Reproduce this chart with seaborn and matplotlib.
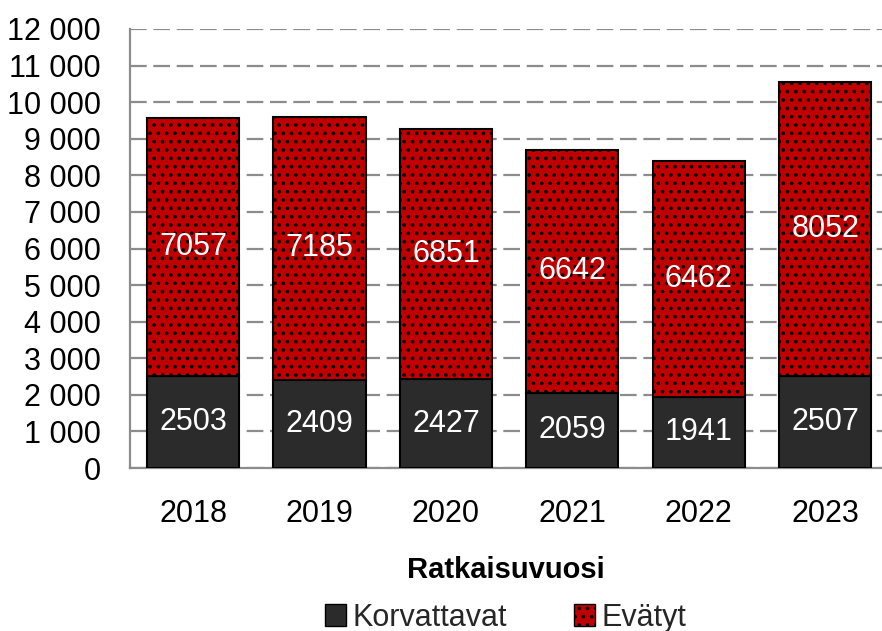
import matplotlib
matplotlib.use("Agg")
import matplotlib.pyplot as plt
import matplotlib.ticker as mticker
from matplotlib.patches import Patch
import pandas as pd
import seaborn as sns

# data
years = ["2018", "2019", "2020", "2021", "2022", "2023"]
korvattavat = [2503, 2409, 2427, 2059, 1941, 2507]
evatyt = [7057, 7185, 6851, 6642, 6462, 8052]

df = pd.DataFrame({"vuosi": years, "Korvattavat": korvattavat, "Evätyt": evatyt})

dark = "#2b2b2b"
red = "#c00000"
grid_gray = "#8c8c8c"

sns.set_style("white")
plt.rcParams["font.family"] = ["Liberation Sans", "DejaVu Sans"]
plt.rcParams["hatch.color"] = "black"
plt.rcParams["hatch.linewidth"] = 1.4

fig = plt.figure(figsize=(8.82, 6.31), dpi=100)
ax = fig.add_axes([130 / 882, 1 - 468 / 631, 752 / 882, (468 - 29) / 631])

# bottom segment
sns.barplot(data=df, x="vuosi", y="Korvattavat", ax=ax, color=dark, width=0.73,
            edgecolor="black", linewidth=1.5, saturation=1, zorder=3)
# top segment stacked on top
sns.barplot(data=df, x="vuosi", y="Evätyt", ax=ax, color=red, width=0.73,
            edgecolor="black", linewidth=1.5, saturation=1, hatch="..",
            bottom=df["Korvattavat"].values, zorder=3)

for cont in ax.containers:
    ax.bar_label(cont, label_type="center", color="white", fontsize=22)

ax.set_ylim(0, 12000)
ax.set_xlim(-0.5, 5.45)
ax.yaxis.set_major_locator(mticker.MultipleLocator(1000))
ax.yaxis.set_major_formatter(mticker.FuncFormatter(lambda v, p: f"{int(v):,}".replace(",", " ")))

ax.grid(axis="y", color=grid_gray, linestyle=(0, (7.5, 3)), linewidth=1.6, zorder=0)
ax.set_axisbelow(True)

for s in ["top", "right"]:
    ax.spines[s].set_visible(False)
ax.spines["left"].set_color(grid_gray)
ax.spines["left"].set_linewidth(1.6)
ax.spines["bottom"].set_color(grid_gray)
ax.spines["bottom"].set_linewidth(1.6)

ax.tick_params(axis="y", direction="inout", length=14, width=1.6, color=grid_gray,
               labelsize=22, pad=14, labelcolor="black")
ax.tick_params(axis="x", which="major", length=0, labelsize=22, pad=22, labelcolor="black")
ax.xaxis.set_minor_locator(mticker.FixedLocator([i - 0.5 for i in range(len(years) + 1)]))
ax.tick_params(axis="x", which="minor", direction="out", length=10, width=1.6, color=grid_gray)

ax.set_xlabel("Ratkaisuvuosi", fontsize=21, fontweight="bold", labelpad=20, color="black")
ax.set_ylabel("")

handles = [Patch(facecolor=dark, edgecolor="black", label="Korvattavat"),
           Patch(facecolor=red, edgecolor="black", hatch="..", label="Evätyt")]
fig.legend(handles=handles, loc="center", bbox_to_anchor=(0.573, 0.021), ncol=2,
           frameon=False, fontsize=22, handlelength=0.7, handleheight=0.7,
           handletextpad=0.2, columnspacing=2.2)

fig.savefig("out.png", dpi=100)
